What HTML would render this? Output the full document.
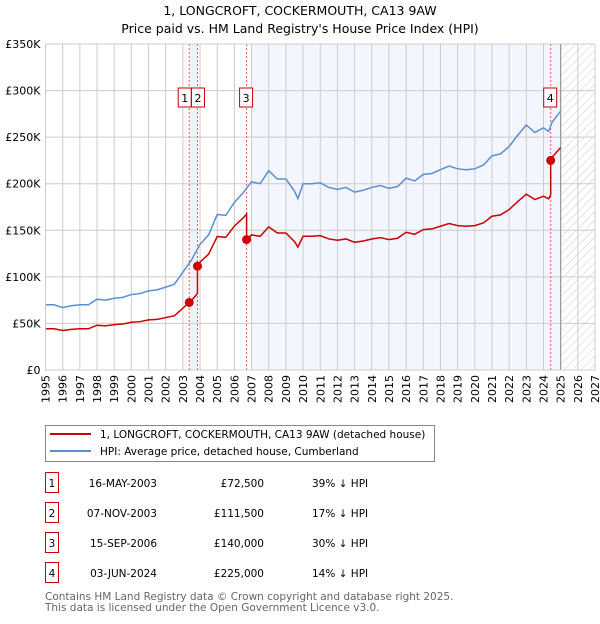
<!DOCTYPE html>
<html><head><meta charset="utf-8"><style>
body{margin:0;background:#fff;font-family:"DejaVu Sans","Liberation Sans",sans-serif;}
svg text{font-family:"DejaVu Sans","Liberation Sans",sans-serif;}
</style></head><body>
<svg id="chart" width="600" height="620" viewBox="0 0 600 620" xmlns="http://www.w3.org/2000/svg">
<defs><pattern id="hatch" patternUnits="userSpaceOnUse" width="6" height="6" patternTransform="rotate(45)"><line x1="0" y1="0" x2="0" y2="6" stroke="#ccc" stroke-width="1"/></pattern></defs>
<text x="300" y="15" text-anchor="middle" font-size="12.5">1, LONGCROFT, COCKERMOUTH, CA13 9AW</text>
<text x="300" y="33" text-anchor="middle" font-size="12.5">Price paid vs. HM Land Registry's House Price Index (HPI)</text>
<g id="plot"></g>
<g>
<rect x="45.5" y="425.5" width="389" height="36" fill="#fff" stroke="#888"/>
<line x1="50" y1="434" x2="91" y2="434" stroke="#cc0000" stroke-width="2"/>
<text x="100" y="438" font-size="10.5">1, LONGCROFT, COCKERMOUTH, CA13 9AW (detached house)</text>
<line x1="50" y1="451" x2="91" y2="451" stroke="#5b8fd3" stroke-width="2"/>
<text x="100" y="455" font-size="10.5">HPI: Average price, detached house, Cumberland</text>
</g>
<g id="table"></g>
<text x="45" y="600" font-size="10.5" fill="#666">Contains HM Land Registry data © Crown copyright and database right 2025.</text>
<text x="45" y="611" font-size="10.5" fill="#666">This data is licensed under the Open Government Licence v3.0.</text>
</svg>
<script>
const hpiYears=[1995,1995.5,1996,1996.5,1997,1997.5,1998,1998.5,1999,1999.5,2000,2000.5,2001,2001.5,2002,2002.5,2003,2003.5,2004,2004.5,2005,2005.5,2006,2006.5,2007,2007.5,2008,2008.5,2009,2009.5,2009.7,2010,2010.5,2011,2011.5,2012,2012.5,2013,2013.5,2014,2014.5,2015,2015.5,2016,2016.5,2017,2017.5,2018,2018.5,2019,2019.5,2020,2020.5,2021,2021.5,2022,2022.5,2023,2023.5,2024,2024.3,2024.5,2025];
const hpiValues=[70,70,67,69,70,70,76,75,77,78,81,82,85,86,89,92,105,118,135,145,167,166,180,190,202,200,214,205,205,192,184,200,200,201,196,194,196,191,193,196,198,195,197,206,203,210,211,215,219,216,215,216,220,230,232,240,252,263,255,260,256,266,278];
const saleLabels=["1","2","3","4"];
const saleDates=["16-MAY-2003","07-NOV-2003","15-SEP-2006","03-JUN-2024"];
const saleYears=[2003.37,2003.85,2006.71,2024.42];
const salePrices=[72500,111500,140000,225000];
const salePriceText=["£72,500","£111,500","£140,000","£225,000"];
const saleDiffText=["39% ↓ HPI","17% ↓ HPI","30% ↓ HPI","14% ↓ HPI"];
const yTicks=[0,50,100,150,200,250,300,350];
const yTickLabels=["£0","£50K","£100K","£150K","£200K","£250K","£300K","£350K"];
const xTicks=[1995,1996,1997,1998,1999,2000,2001,2002,2003,2004,2005,2006,2007,2008,2009,2010,2011,2012,2013,2014,2015,2016,2017,2018,2019,2020,2021,2022,2023,2024,2025,2026,2027];

const L=45.5,R=595,T=44,B=370;
const X=y=>L+(y-1995)/(2027-1995)*(R-L);
const Y=v=>B-v/350*(B-T);
const NS="http://www.w3.org/2000/svg";
const plot=document.getElementById('plot');
function mk(tag,attrs,parent){const e=document.createElementNS(NS,tag);for(const k in attrs)e.setAttribute(k,attrs[k]);(parent||plot).appendChild(e);return e;}
function hpiAt(y){for(let i=0;i<hpiYears.length-1;i++){if(y<=hpiYears[i+1]){const t=(y-hpiYears[i])/(hpiYears[i+1]-hpiYears[i]);return hpiValues[i]+t*(hpiValues[i+1]-hpiValues[i]);}}return hpiValues[hpiValues.length-1];}

let e;
e=mk('rect',{x:X(saleYears[0]),y:T,width:X(saleYears[1])-X(saleYears[0]),height:B-T,fill:'#eef2fc'});

e=mk('rect',{x:X(2007),y:T,width:X(2025)-X(2007),height:B-T,fill:'#f3f6fe'});

e=mk('rect',{x:X(2025),y:T,width:R-X(2025),height:B-T,fill:'url(#hatch)'});

xTicks.forEach(t=>{e=mk('line',{x1:X(t),x2:X(t),y1:T,y2:B,stroke:'#ccc','stroke-width':1});

e=mk('text',{x:0,y:0,'font-size':11,'text-anchor':'end',transform:`translate(${X(t)+4},${B+5}) rotate(-90)`});e.textContent=t;
});
yTicks.forEach((t,i)=>{e=mk('line',{x1:L,x2:R,y1:Y(t),y2:Y(t),stroke:'#ccc','stroke-width':1});

e=mk('text',{x:L-5,y:Y(t)+4,'font-size':11,'text-anchor':'end'});e.textContent=yTickLabels[i];
});
e=mk('line',{x1:X(2025),x2:X(2025),y1:T,y2:B,stroke:'#999','stroke-width':1.2});

saleYears.forEach(s=>{e=mk('line',{x1:X(s),x2:X(s),y1:T,y2:B,stroke:'#e55','stroke-width':1,'stroke-dasharray':'2,2'});
});
e=mk('polyline',{points:hpiYears.map((y,i)=>X(y)+','+Y(hpiValues[i])).join(' '),fill:'none',stroke:'#5b8fd3','stroke-width':1.5});

const ratios=saleYears.map((s,i)=>salePrices[i]/1000/hpiAt(s));
const pts=[];
function ratioFor(y){let r=ratios[0];saleYears.forEach((s,i)=>{if(y>=s)r=ratios[i];});return r;}
hpiYears.forEach((y,i)=>{
  saleYears.forEach((s,k)=>{if(s>(i?hpiYears[i-1]:0)&&s<=y){const h=hpiAt(s);pts.push([s,h*(k?ratios[k-1]:ratios[0])]);pts.push([s,h*ratios[k]]);}});
  pts.push([y,hpiValues[i]*ratioFor(y)]);});
e=mk('polyline',{points:pts.map(p=>X(p[0])+','+Y(p[1])).join(' '),fill:'none',stroke:'#cc0000','stroke-width':1.5});

saleYears.forEach((s,i)=>{e=mk('circle',{cx:X(s),cy:Y(salePrices[i]/1000),r:4.5,fill:'#cc0000'});
});
saleLabels.forEach((l,i)=>{const bx=i==0?X(saleYears[0])-11:(i==1?X(saleYears[1])-6:X(saleYears[i])-7);
e=mk('rect',{x:bx,y:88,width:13,height:19,fill:'#fff',stroke:'#cc0000'});

e=mk('text',{x:bx+6.5,y:102,'font-size':11,'text-anchor':'middle'});e.textContent=l;
});
e=mk('rect',{x:L,y:T,width:R-L,height:B-T,fill:'none',stroke:'#ccc'});

const tb=document.getElementById('table');
const rowY=[483,513,543,573];
saleLabels.forEach((l,i)=>{const y=rowY[i];
e=mk('rect',{x:45.5,y:y-10.5,width:13,height:20,fill:'#fff',stroke:'#cc0000'},tb);

e=mk('text',{x:52,y:y+4,'font-size':10.5,'text-anchor':'middle'},tb);e.textContent=l;

e=mk('text',{x:157,y:y+4,'font-size':10.5,'text-anchor':'end'},tb);e.textContent=saleDates[i];

e=mk('text',{x:264,y:y+4,'font-size':10.5,'text-anchor':'end'},tb);e.textContent=salePriceText[i];

e=mk('text',{x:312,y:y+4,'font-size':10.5},tb);e.textContent=saleDiffText[i];
});
</script>
</body></html>
